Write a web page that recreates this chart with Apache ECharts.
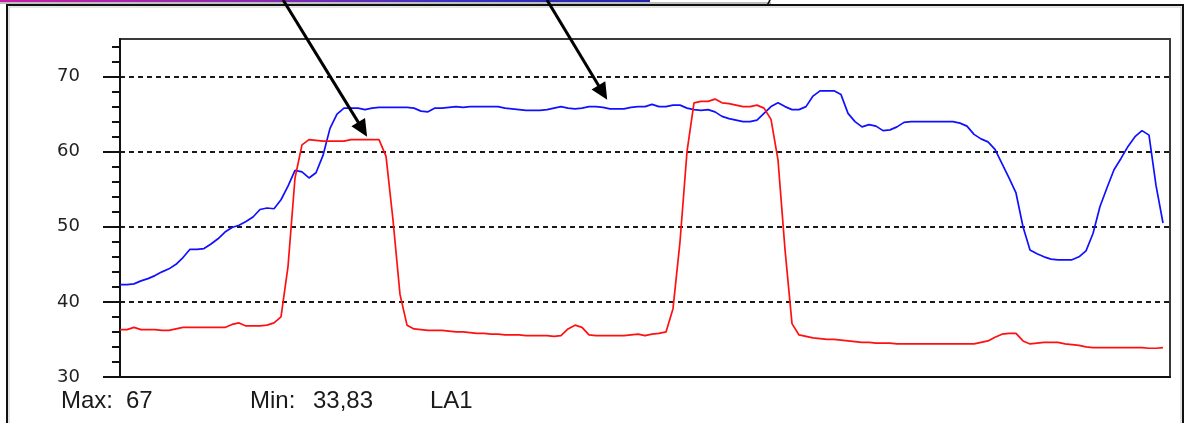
<!DOCTYPE html>
<html>
<head>
<meta charset="utf-8">
<script src="https://cdn.jsdelivr.net/npm/echarts@6/dist/echarts.min.js"></script>
<style>
  html, body { margin: 0; padding: 0; background: #fff; }
  #chart { width: 1189px; height: 423px; }
</style>
</head>
<body>
<div id="chart"></div>
<script>
// LA1 channel (red), one reading per sample step
const la1 = [
  36.3, 36.3, 36.6, 36.3, 36.3, 36.3, 36.2, 36.2, 36.4, 36.6,
  36.6, 36.6, 36.6, 36.6, 36.6, 36.6, 37.0, 37.2, 36.8, 36.8,
  36.8, 36.9, 37.2, 38.0, 44.7, 56.5, 60.9, 61.6, 61.5, 61.4,
  61.4, 61.4, 61.4, 61.6, 61.6, 61.6, 61.6, 61.6, 59.4, 50.9,
  41.0, 36.9, 36.4, 36.3, 36.2, 36.2, 36.2, 36.1, 36.0, 36.0,
  35.9, 35.8, 35.8, 35.7, 35.7, 35.6, 35.6, 35.6, 35.5, 35.5,
  35.5, 35.5, 35.4, 35.5, 36.4, 36.9, 36.6, 35.6, 35.5, 35.5,
  35.5, 35.5, 35.5, 35.6, 35.7, 35.5, 35.7, 35.8, 36.0, 39.1,
  48.0, 60.0, 66.5, 66.7, 66.7, 67.0, 66.5, 66.4, 66.2, 66.0,
  66.0, 66.2, 65.8, 64.3, 58.9, 47.0, 37.1, 35.6, 35.4, 35.2,
  35.1, 35.0, 35.0, 34.9, 34.8, 34.7, 34.6, 34.6, 34.5, 34.5,
  34.5, 34.4, 34.4, 34.4, 34.4, 34.4, 34.4, 34.4, 34.4, 34.4,
  34.4, 34.4, 34.4, 34.6, 34.8, 35.3, 35.7, 35.8, 35.8, 34.8,
  34.4, 34.5, 34.6, 34.6, 34.6, 34.4, 34.3, 34.2, 34.0, 33.9,
  33.9, 33.9, 33.9, 33.9, 33.9, 33.9, 33.9, 33.83, 33.83, 33.9
];

// Companion channel (blue), same sample steps
const companion = [
  42.3, 42.3, 42.4, 42.8, 43.1, 43.5, 44.0, 44.4, 45.0, 45.9,
  47.0, 47.0, 47.1, 47.7, 48.4, 49.3, 49.9, 50.2, 50.7, 51.3,
  52.3, 52.5, 52.4, 53.6, 55.4, 57.5, 57.3, 56.5, 57.2, 59.5,
  63.1, 65.0, 65.8, 65.8, 65.8, 65.6, 65.8, 65.9, 65.9, 65.9,
  65.9, 65.9, 65.8, 65.4, 65.3, 65.8, 65.8, 65.9, 66.0, 65.9,
  66.0, 66.0, 66.0, 66.0, 66.0, 65.8, 65.7, 65.6, 65.5, 65.5,
  65.5, 65.6, 65.8, 66.0, 65.8, 65.7, 65.8, 66.0, 66.0, 65.9,
  65.7, 65.7, 65.7, 65.9, 66.0, 66.0, 66.3, 66.0, 66.0, 66.2,
  66.2, 65.8, 65.6, 65.5, 65.6, 65.3, 64.7, 64.4, 64.2, 64.0,
  64.0, 64.2, 65.1, 66.0, 66.5, 66.0, 65.6, 65.6, 66.0, 67.4,
  68.1, 68.1, 68.1, 67.6, 65.1, 64.0, 63.3, 63.6, 63.4, 62.8,
  62.9, 63.3, 63.9, 64.0, 64.0, 64.0, 64.0, 64.0, 64.0, 64.0,
  63.8, 63.4, 62.3, 61.7, 61.3, 60.3, 58.4, 56.5, 54.5, 50.0,
  46.9, 46.4, 46.0, 45.7, 45.6, 45.6, 45.6, 46.0, 46.8, 49.1,
  52.7, 55.2, 57.6, 59.1, 60.7, 62.0, 62.8, 62.2, 55.5, 50.5
];

const majorTicks = [30, 40, 50, 60, 70];
const minorTicks = [32, 34, 36, 38, 42, 44, 46, 48, 52, 54, 56, 58, 62, 64, 66, 68, 72, 74];
const channelName = 'LA1';
const statNames = ['Max:', 'Min:'];

// Callout arrows, tail and head in (sample, value) units
const arrowTails = [[23.3, 80.2], [61.0, 80.2]];
const arrowHeads = [[35.3, 62.0], [69.6, 66.9]];

function fmt(v) {
  return (Math.round(v * 100) / 100).toString().replace('.', ',');
}
const maxText = fmt(Math.max.apply(null, la1));
const minText = fmt(Math.min.apply(null, la1));

const chart = echarts.init(document.getElementById('chart'), null, { renderer: 'canvas' });

const textFont = { fontFamily: 'Liberation Sans, Arial, sans-serif', fontSize: 24, fill: '#1a1a1a' };

const staticGraphics = [
  // clipped callout box along the top edge
  { type: 'line', shape: { x1: 0, y1: 3, x2: 771, y2: 3 }, style: { stroke: '#a8a8a8', lineWidth: 1.5 }, z: 10 },
  {
    type: 'rect', shape: { x: 0, y: 0, width: 650, height: 2 }, z: 11,
    style: {
      fill: new echarts.graphic.LinearGradient(0, 0, 1, 0, [
        { offset: 0, color: '#c81ea8' },
        { offset: 0.4, color: '#8a28b4' },
        { offset: 0.7, color: '#3a30c0' },
        { offset: 1, color: '#2424a8' }
      ])
    }
  },
  { type: 'text', x: 766, y: 5, z: 11, style: { text: ')', fontFamily: 'Liberation Sans', fontSize: 20, fill: '#111', verticalAlign: 'bottom' } },
  // outer panel frame
  { type: 'polyline', shape: { points: [[7, 423], [7, 5], [1183, 5], [1183, 423]] }, style: { stroke: '#111', lineWidth: 2, fill: null }, z: 10 },
  { type: 'polyline', shape: { points: [[9, 423], [9, 7], [1181, 7], [1181, 423]] }, style: { stroke: '#c8c8c8', lineWidth: 1, fill: null }, z: 10 },
  // statistics line under the plot
  { type: 'text', x: 61, y: 401, z: 10, style: Object.assign({ text: statNames[0], verticalAlign: 'middle' }, textFont) },
  { type: 'text', x: 126, y: 401, z: 10, style: Object.assign({ text: maxText, verticalAlign: 'middle' }, textFont) },
  { type: 'text', x: 250, y: 401, z: 10, style: Object.assign({ text: statNames[1], verticalAlign: 'middle' }, textFont) },
  { type: 'text', x: 313, y: 401, z: 10, style: Object.assign({ text: minText, verticalAlign: 'middle' }, textFont) },
  { type: 'text', x: 430, y: 401, z: 10, style: Object.assign({ text: channelName, verticalAlign: 'middle' }, textFont) }
];

const option = {
  animation: false,
  backgroundColor: '#ffffff',
  grid: {
    left: 120, top: 39, right: 19, bottom: 46,
    show: true, borderColor: '#3a3a3a', borderWidth: 2, backgroundColor: 'transparent'
  },
  xAxis: {
    type: 'value', min: 0, max: 150,
    axisLine: { show: true, onZero: false, lineStyle: { color: '#111', width: 2 } },
    axisTick: { show: false },
    axisLabel: { show: false },
    splitLine: { show: false }
  },
  yAxis: [
    {
      type: 'value', min: 30, max: 75, interval: 10, position: 'left',
      axisLine: { show: true, onZero: false, lineStyle: { color: '#111', width: 2 } },
      axisTick: { show: true, length: 17, customValues: majorTicks, lineStyle: { color: '#111', width: 2 } },
      axisLabel: {
        customValues: majorTicks, margin: 40, color: '#222',
        fontFamily: 'DejaVu Sans', fontSize: 18
      },
      splitLine: { show: true, lineStyle: { color: '#1a1a1a', width: 2, type: [5, 4] } }
    },
    {
      type: 'value', min: 30, max: 75, interval: 2, position: 'left', offset: 2,
      axisLine: { show: false },
      axisTick: { show: true, length: 8, customValues: minorTicks, lineStyle: { color: '#111', width: 2 } },
      axisLabel: { show: false },
      splitLine: { show: false }
    }
  ],
  series: [
    {
      name: 'companion', type: 'line', yAxisIndex: 0, showSymbol: false, symbol: 'none',
      data: companion.map(function (v, i) { return [i, v]; }),
      lineStyle: { color: '#1010ff', width: 1.7 }, z: 3
    },
    {
      name: channelName, type: 'line', yAxisIndex: 0, showSymbol: false, symbol: 'none',
      data: la1.map(function (v, i) { return [i, v]; }),
      lineStyle: { color: '#ff1010', width: 1.7 }, z: 4
    }
  ],
  graphic: staticGraphics
};

chart.setOption(option);

// arrows placed from the axis scales
function arrow(tail, head) {
  const a = chart.convertToPixel({ xAxisIndex: 0, yAxisIndex: 0 }, tail);
  const b = chart.convertToPixel({ xAxisIndex: 0, yAxisIndex: 0 }, head);
  const dx = b[0] - a[0], dy = b[1] - a[1];
  const len = Math.sqrt(dx * dx + dy * dy);
  const ux = dx / len, uy = dy / len;
  const hl = 17, hw = 8;
  const bx = b[0] - ux * hl, by = b[1] - uy * hl;
  return [
    { type: 'line', z: 20, shape: { x1: a[0], y1: a[1], x2: bx + ux * 2, y2: by + uy * 2 }, style: { stroke: '#000', lineWidth: 3 } },
    { type: 'polygon', z: 20, shape: { points: [[b[0], b[1]], [bx - uy * hw, by + ux * hw], [bx + uy * hw, by - ux * hw]] }, style: { fill: '#000' } }
  ];
}
let arrowGraphics = [];
for (let k = 0; k < arrowHeads.length; k++) {
  arrowGraphics = arrowGraphics.concat(arrow(arrowTails[k], arrowHeads[k]));
}
chart.setOption({ graphic: staticGraphics.concat(arrowGraphics) }, { replaceMerge: ['graphic'] });
</script>
</body>
</html>
